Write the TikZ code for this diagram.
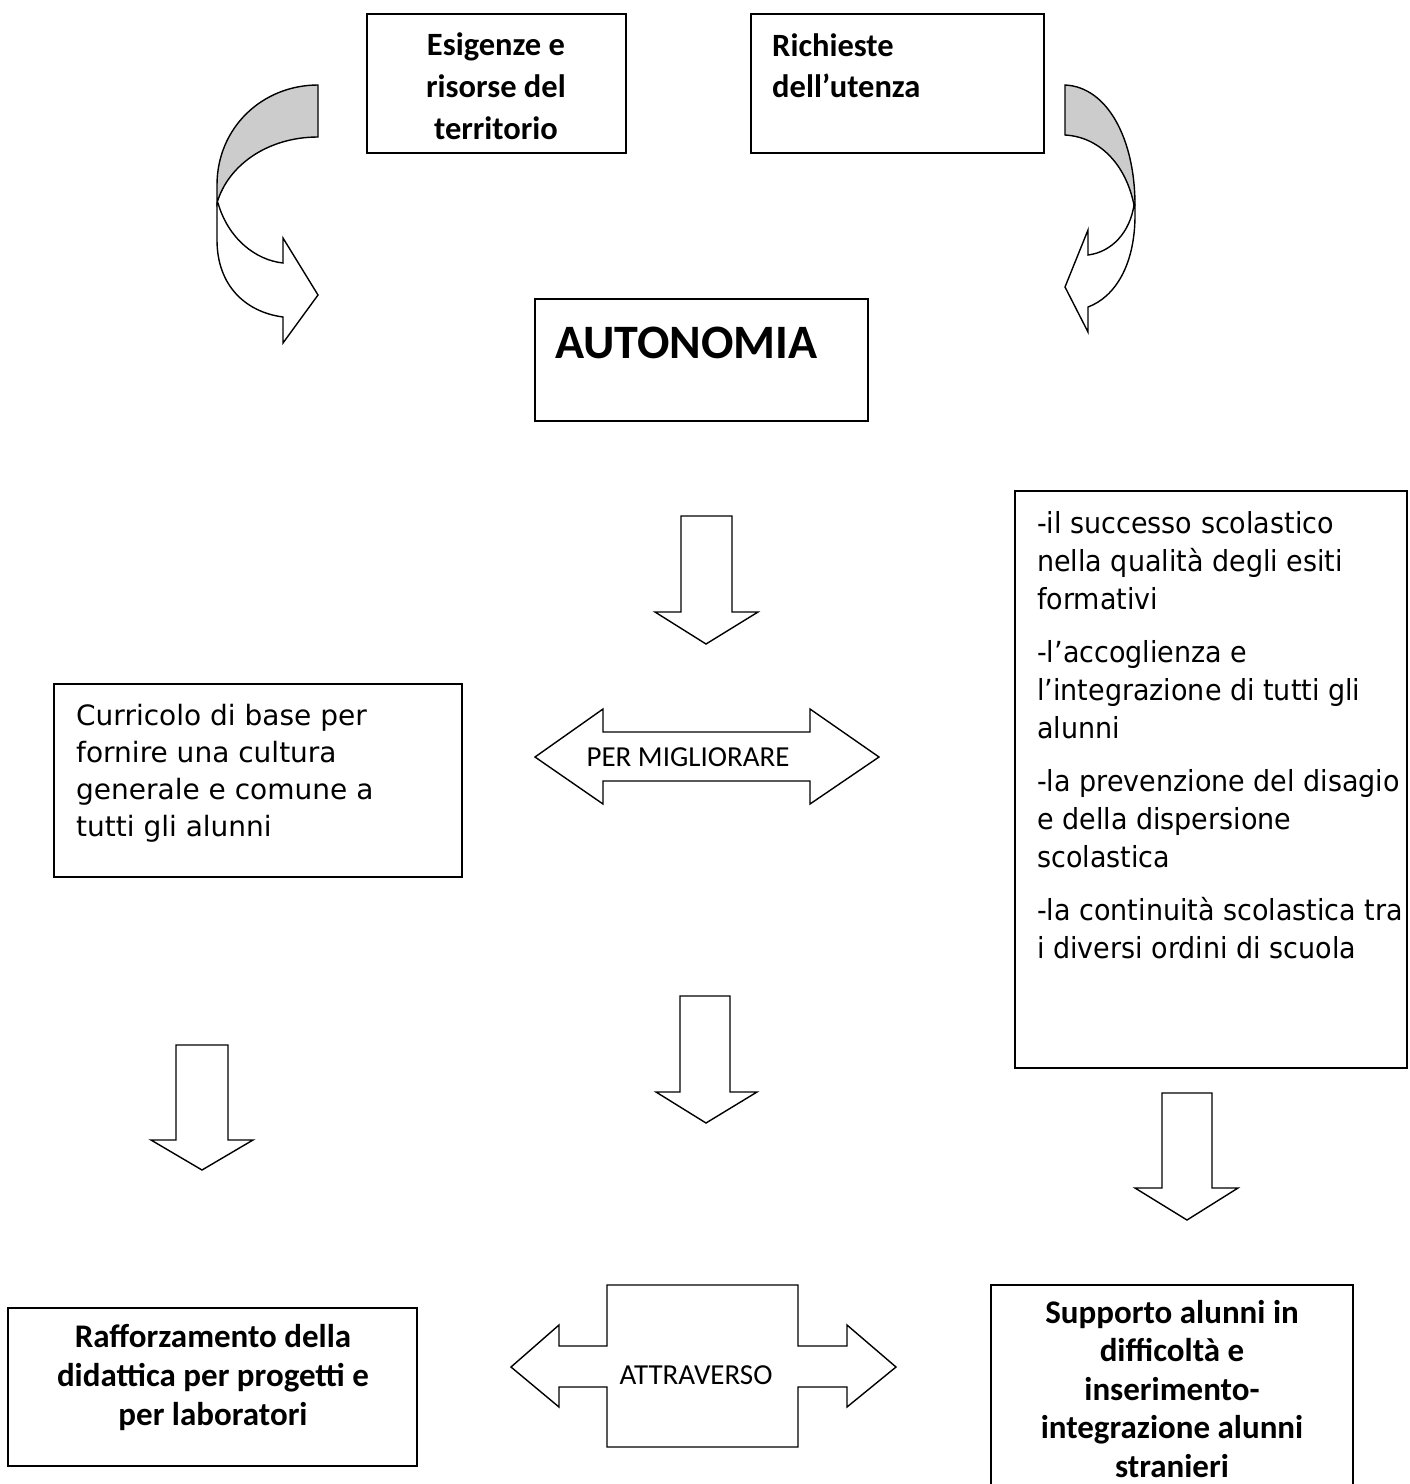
\documentclass[tikz,border=0pt]{standalone}
\usepackage{fontspec}
\newfontfamily\dvs{DejaVu Sans}
\newfontfamily\dvsn[FakeStretch=0.93]{DejaVu Sans}
\newfontfamily\carl{Carlito}
\begin{document}
\begin{tikzpicture}[x=1pt,y=-1pt,
  box/.style={draw, line width=1.5pt, inner sep=0pt, outer sep=0pt, anchor=north west},
  blk/.style={draw, line width=1.4pt, fill=white, line join=miter},
  grayblk/.style={draw, line width=1.4pt, fill=black!20, line join=miter},
  boldtxt/.style={font=\carl\bfseries\fontsize{32.5}{42}\selectfont, inner sep=0pt},
  regtxt/.style={font=\carl\fontsize{29}{34}\selectfont, inner sep=0pt},
  sanstxt/.style={font=\dvs\fontsize{28}{37}\selectfont, inner sep=0pt, align=left, anchor=base west}]
\useasboundingbox (0,0) rectangle (1409,1484);

% boxes
\node[box, minimum width=259pt, minimum height=139pt] (esig) at (367,14) {};
\node[box, minimum width=293pt, minimum height=139pt] (rich) at (751,14) {};
\node[box, minimum width=333pt, minimum height=122pt] (auto) at (535,299) {};
\node[box, minimum width=408pt, minimum height=193pt] (curr) at (54,684) {};
\node[box, minimum width=392pt, minimum height=577pt] (obj) at (1015,491) {};
\node[box, minimum width=409pt, minimum height=158pt] (raff) at (8,1308) {};
\draw[line width=1.5pt] (991,1490) -- (991,1285) -- (1353,1285) -- (1353,1490);
\coordinate (supp) at (1172,1285);

% texts (anchor base = baseline of the last line)
\node[boldtxt, align=center, anchor=base] (esigT) at (496,139) {Esigenze e\\risorse del\\territorio};
\node[boldtxt, font=\carl\bfseries\fontsize{32.5}{41}\selectfont, align=left, anchor=base west] (richT) at (772,97) {Richieste\\dell’utenza};
\node[font=\carl\bfseries\fontsize{48}{50}\selectfont, inner sep=0pt, anchor=base west] (autoT) at (555,358) {AUTONOMIA};
\node[sanstxt] (currT) at (76,836) {Curricolo di base per\\fornire una cultura\\generale e comune a\\tutti gli alunni};
\node[sanstxt, font=\dvsn\fontsize{29}{38}\selectfont] (objT) at (1037,958)
  {-il successo scolastico\\nella qualità degli esiti\\formativi\\[15pt]
   -l’accoglienza e\\l’integrazione di tutti gli\\alunni\\[15pt]
   -la prevenzione del disagio\\e della dispersione\\scolastica\\[15pt]
   -la continuità scolastica tra\\i diversi ordini di scuola};
\node[boldtxt, font=\carl\bfseries\fontsize{33}{39}\selectfont, align=center, anchor=base] (raffT) at (213,1425)
  {Rafforzamento della\\didattica per progetti e\\per laboratori};
\node[boldtxt, font=\carl\bfseries\fontsize{33}{38.5}\selectfont, align=center, anchor=base] (suppT) at (1172,1477)
  {Supporto alunni in\\difficoltà e\\inserimento-\\integrazione alunni\\stranieri};

% curved arrows (left)
\draw[blk] (218,203) .. controls (228,238) and (255,260) .. (283,263) -- (283,238) -- (318,295) -- (283,343) -- (283,317)
  .. controls (245,312) and (217,285) .. (217,240) -- (217,203) -- cycle;
\draw[grayblk] (318,85) .. controls (262,85) and (217,128) .. (217,185) -- (217,203)
  .. controls (228,165) and (268,137) .. (318,137) -- cycle;
% curved arrows (right)
\draw[blk] (1134,205) .. controls (1130,232) and (1112,252) .. (1088,255) -- (1088,230) -- (1065,287) -- (1088,332) -- (1088,307)
  .. controls (1115,297) and (1135,265) .. (1135,215) -- (1135,205) -- cycle;
\draw[grayblk] (1065,85) .. controls (1108,87) and (1135,140) .. (1135,205) -- (1134,205)
  .. controls (1126,165) and (1100,137) .. (1065,135) -- cycle;

% down arrows
\draw[blk] (681,516) -- (732,516) -- (732,612) -- (758,612) -- (706,644) -- (655,612) -- (681,612) -- cycle;
\draw[blk] (680,996) -- (730,996) -- (730,1092) -- (757,1092) -- (706,1123) -- (656,1092) -- (680,1092) -- cycle;
\draw[blk] (176,1045) -- (228,1045) -- (228,1140) -- (253,1140) -- (202,1170) -- (151,1140) -- (176,1140) -- cycle;
\draw[blk] (1162,1093) -- (1212,1093) -- (1212,1188) -- (1238,1188) -- (1187,1220) -- (1135,1188) -- (1162,1188) -- cycle;

% PER MIGLIORARE
\draw[blk] (535,757) -- (603,709) -- (603,732) -- (810,732) -- (810,709) -- (879,757) -- (810,804) -- (810,781)
  -- (603,781) -- (603,804) -- cycle;
\node[regtxt, anchor=base] (perT) at (688,766) {PER MIGLIORARE};

% ATTRAVERSO
\draw[blk] (511,1367) -- (559,1325) -- (559,1346) -- (607,1346) -- (607,1285) -- (798,1285) -- (798,1346) -- (847,1346)
  -- (847,1325) -- (896,1367) -- (847,1407) -- (847,1387) -- (798,1387) -- (798,1447) -- (607,1447) -- (607,1387)
  -- (559,1387) -- (559,1407) -- cycle;
\node[regtxt, anchor=base] (attT) at (696,1384) {ATTRAVERSO};
\end{tikzpicture}
\end{document}
